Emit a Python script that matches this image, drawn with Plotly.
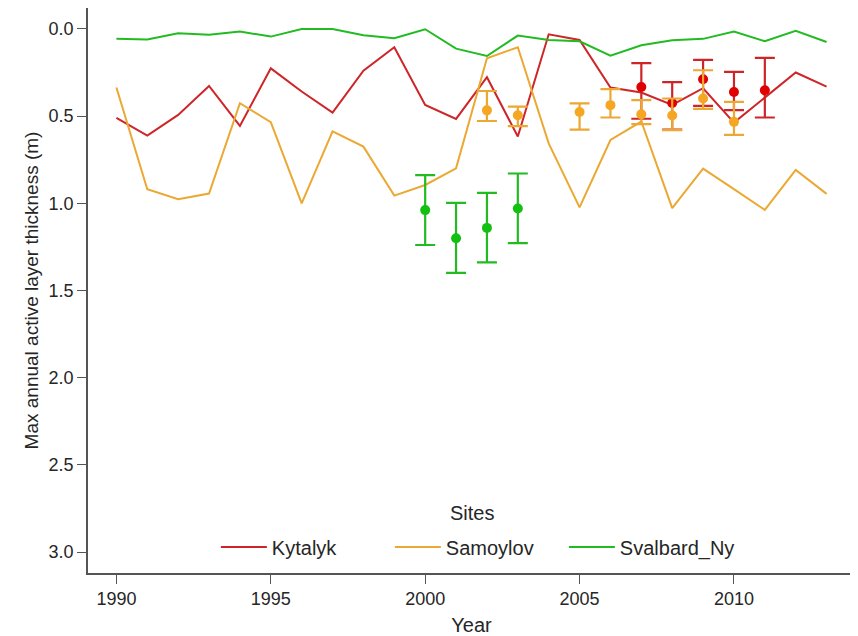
import plotly.graph_objects as go

years = list(range(1990, 2014))

kytalyk_line = [0.510, 0.612, 0.493, 0.327, 0.556, 0.226, 0.359, 0.480, 0.239, 0.105,
                0.436, 0.516, 0.277, 0.617, 0.031, 0.063, 0.336, 0.365, 0.436, 0.340,
                0.537, 0.392, 0.250, 0.331]
samoylov_line = [0.336, 0.919, 0.977, 0.944, 0.426, 0.535, 1.000, 0.587, 0.675, 0.956,
                 0.895, 0.799, 0.168, 0.105, 0.656, 1.023, 0.637, 0.531, 1.028, 0.801,
                 0.919, 1.038, 0.809, 0.946]
svalbard_line = [0.056, 0.061, 0.025, 0.033, 0.015, 0.044, 0.000, 0.000, 0.036, 0.053,
                 0.002, 0.113, 0.155, 0.038, 0.063, 0.071, 0.153, 0.094, 0.065, 0.057,
                 0.015, 0.071, 0.011, 0.075]

# observed points with error bar ends (shallow end, deep end)
kytalyk_obs_years = [2007, 2008, 2009, 2010, 2011]
kytalyk_obs = [0.333, 0.425, 0.289, 0.362, 0.352]
kytalyk_obs_lo = [0.196, 0.305, 0.178, 0.246, 0.166]
kytalyk_obs_hi = [0.515, 0.578, 0.441, 0.466, 0.508]

samoylov_obs_years = [2002, 2003, 2005, 2006, 2007, 2008, 2009, 2010]
samoylov_obs = [0.467, 0.495, 0.476, 0.437, 0.490, 0.496, 0.399, 0.533]
samoylov_obs_lo = [0.356, 0.445, 0.427, 0.345, 0.408, 0.399, 0.237, 0.418]
samoylov_obs_hi = [0.528, 0.557, 0.577, 0.508, 0.546, 0.580, 0.459, 0.607]

svalbard_obs_years = [2000, 2001, 2002, 2003]
svalbard_obs = [1.039, 1.200, 1.141, 1.030]
svalbard_obs_lo = [0.838, 0.998, 0.940, 0.829]
svalbard_obs_hi = [1.239, 1.399, 1.339, 1.228]

y_ticks = [0.0, 0.5, 1.0, 1.5, 2.0, 2.5, 3.0]
x_ticks = [1990, 1995, 2000, 2005, 2010]

sites = ["Kytalyk", "Samoylov", "Svalbard_Ny"]
line_colors = ["#CE2529", "#EBA832", "#22BB22"]
point_colors = ["#E00000", "#F5A623", "#11C011"]

FONT = "Liberation Sans, Arial, Helvetica, sans-serif"
TXT = "#262626"

fig = go.Figure()

lines = [kytalyk_line, samoylov_line, svalbard_line]
obs = [
    (kytalyk_obs_years, kytalyk_obs, kytalyk_obs_lo, kytalyk_obs_hi),
    (samoylov_obs_years, samoylov_obs, samoylov_obs_lo, samoylov_obs_hi),
    (svalbard_obs_years, svalbard_obs, svalbard_obs_lo, svalbard_obs_hi),
]

for name, vals, c in zip(sites, lines, line_colors):
    fig.add_trace(go.Scatter(x=years, y=vals, mode="lines", name=name,
                             line=dict(color=c, width=2)))

for name, (yy, m, lo, hi), c, pc in zip(sites, obs, line_colors, point_colors):
    fig.add_trace(go.Scatter(
        x=yy, y=m, mode="markers", showlegend=False, name=name,
        marker=dict(color=pc, size=10),
        error_y=dict(type="data", symmetric=False,
                     array=[h - v for h, v in zip(hi, m)],
                     arrayminus=[v - l for v, l in zip(m, lo)],
                     color=c, thickness=2.2, width=10),
    ))

axis_common = dict(showline=True, linecolor="#555555", linewidth=1.5, mirror=True,
                   ticks="outside", ticklen=9, tickwidth=1.2, tickcolor="#555555",
                   showgrid=False, zeroline=False, automargin=False,
                   tickfont=dict(family=FONT, size=18, color=TXT))

# page body has an 8px margin, so the figure is sized to fit the 858x636 window
fig.update_layout(
    width=850, height=628,
    paper_bgcolor="white", plot_bgcolor="white",
    margin=dict(l=80, r=3, t=0, b=63),
    font=dict(family=FONT, color=TXT),
    xaxis=dict(range=[1989.08, 2013.92], tickvals=x_ticks,
               title=dict(text="Year", font=dict(size=20, color=TXT), standoff=10),
               **axis_common),
    yaxis=dict(range=[3.12, -0.12], tickvals=y_ticks, tickformat=".1f",
               title=dict(text="Max annual active layer thickness (m)",
                          font=dict(size=19, color=TXT), standoff=5),
               **axis_common),
    legend=dict(orientation="h", x=0.507, xanchor="center", y=0.046, yanchor="middle",
                bgcolor="rgba(0,0,0,0)", entrywidth=113, itemwidth=46,
                font=dict(size=20, color=TXT)),
    annotations=[dict(text="Sites", x=0.5, y=0.106, xref="paper", yref="paper",
                      xanchor="center", yanchor="middle", showarrow=False,
                      font=dict(size=20, color=TXT))],
)

fig.write_html("out.html")
